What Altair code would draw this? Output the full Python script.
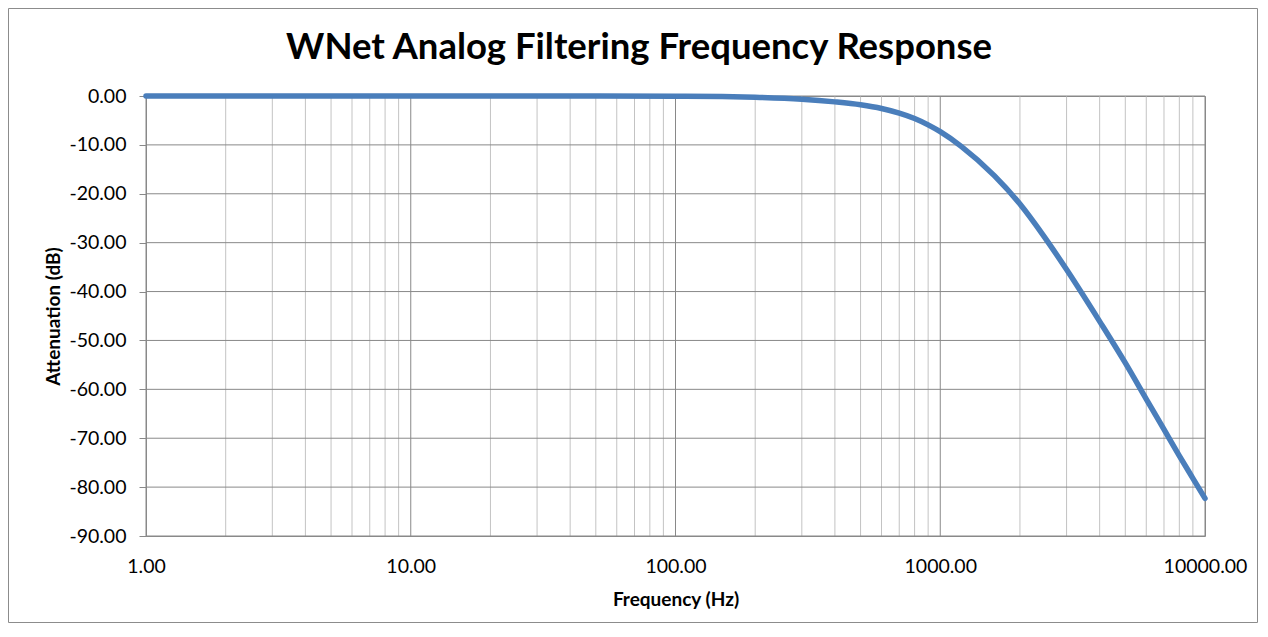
import altair as alt
import pandas as pd

# Data
freq_hz = [1, 2, 5, 10, 20, 50, 100, 150, 200, 300, 400, 500, 600, 700, 800,
           900, 1000, 1200, 1600, 2000, 2450, 3000, 4000, 5000, 6000, 7000,
           8000, 9000, 10000]
atten_db = [0, 0, 0, 0, 0, 0, -0.05, -0.12, -0.25, -0.65, -1.2, -1.8, -2.55,
            -3.5, -4.6, -5.9, -7.3, -10.3, -16.3, -22.1, -28.5, -35.5, -46.1,
            -54.6, -62.0, -68.2, -73.6, -78.2, -82.3]

major_x = [1, 10, 100, 1000, 10000]
minor_x = [m * d for d in [1, 10, 100, 1000] for m in range(2, 10)]
major_y = list(range(-90, 1, 10))

title_text = "WNet Analog Filtering Frequency Response"
x_title = "Frequency (Hz)"
y_title = "Attenuation (dB)"

W, H = 1059, 440
PAD = {"left": 138, "top": 88, "right": 53, "bottom": 87}

df = pd.DataFrame({"f": freq_hz, "a": atten_db})
minor_df = pd.DataFrame({"f": minor_x})
major_x_df = pd.DataFrame({"f": major_x})
major_y_df = pd.DataFrame({"a": major_y})
one = pd.DataFrame({"k": [0]})

xscale = alt.Scale(type="log", domain=[1, 10000], nice=False)
yscale = alt.Scale(domain=[-90, 0], nice=False, zero=False)

FONT = "Lato"
MAJOR = "#898989"
MINOR = "#c3c3c3"
LABEL_EXPR = "replace(format(datum.value, '.2f'), '\u2212', '-')"

minor_rules = alt.Chart(minor_df).mark_rule(color=MINOR, strokeWidth=1).encode(
    x=alt.X("f:Q", scale=xscale)
)
major_v = alt.Chart(major_x_df).mark_rule(color=MAJOR, strokeWidth=1).encode(
    x=alt.X("f:Q", scale=xscale)
)
major_h = alt.Chart(major_y_df).mark_rule(color=MAJOR, strokeWidth=1).encode(
    y=alt.Y("a:Q", scale=yscale)
)

line = alt.Chart(df).mark_line(
    color="#4a7ebb", strokeWidth=5.5, interpolate="monotone", strokeCap="round"
).encode(
    x=alt.X(
        "f:Q",
        scale=xscale,
        axis=alt.Axis(
            values=major_x, labelExpr=LABEL_EXPR, grid=False, ticks=False,
            domain=False,
            labelFont=FONT, labelFontSize=19.5, labelColor="#000000",
            labelPadding=21, labelFlush=False, labelOverlap=False,
            title=x_title, titleFont=FONT, titleFontSize=19,
            titleFontWeight="bold", titleColor="#000000", titlePadding=15,
        ),
    ),
    y=alt.Y(
        "a:Q",
        scale=yscale,
        axis=alt.Axis(
            values=major_y, labelExpr=LABEL_EXPR, grid=False, tickSize=7,
            tickColor=MAJOR, domainColor=MAJOR,
            labelFont=FONT, labelFontSize=19.5, labelColor="#000000",
            labelPadding=13, labelOverlap=False,
            title=y_title, titleFont=FONT, titleFontSize=19,
            titleFontWeight="bold", titleColor="#000000", titlePadding=5,
        ),
    ),
)

title = alt.Chart(one).mark_text(
    font=FONT, fontSize=36.5, fontWeight="bold", align="center",
    baseline="alphabetic", color="#000000",
).encode(x=alt.value(493), y=alt.value(-37), text=alt.value(title_text))

border = alt.Chart(one).mark_rect(
    fill=None, fillOpacity=0, stroke="#8c8c8c", strokeWidth=1
).encode(
    x=alt.value(-137.5), x2=alt.value(W + PAD["right"] - 0.5),
    y=alt.value(-87.5), y2=alt.value(H + PAD["bottom"] - 0.5),
)

chart = alt.layer(minor_rules, major_v, major_h, line, title, border).properties(
    width=W, height=H, autosize=alt.AutoSizeParams(type="none"), padding=PAD,
    background="#ffffff",
).configure_view(stroke=MAJOR, strokeWidth=1)

chart.save("out.html", embed_options={"renderer": "svg", "actions": False})
